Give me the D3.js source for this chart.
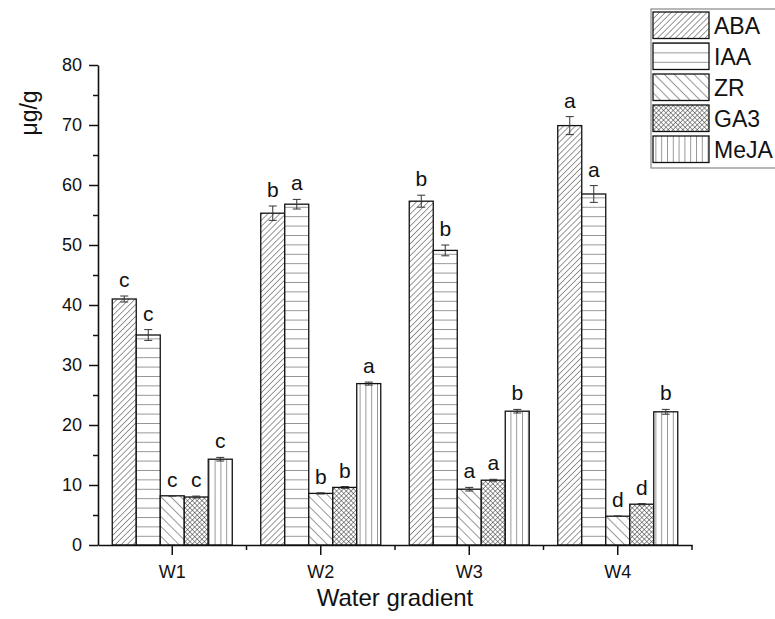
<!DOCTYPE html>
<html>
<head>
<meta charset="utf-8">
<script src="https://cdn.jsdelivr.net/npm/d3@7"></script>
<style>
  body { margin: 0; background: #fff; }
  svg { display: block; font-family: "Liberation Sans", Arial, sans-serif; }
</style>
</head>
<body>
<div id="chart"></div>
<script>
// Hormone content per water gradient

const groups = ["W1", "W2", "W3", "W4"];
const hormones = ["ABA", "IAA", "ZR", "GA3", "MeJA"];

const meanABA = [41.0, 55.3, 57.3, 69.9];
const meanIAA = [35.0, 56.8, 49.1, 58.5];
const meanZR = [8.2, 8.6, 9.3, 4.8];
const meanGA3 = [8.0, 9.6, 10.8, 6.8];
const meanMeJA = [14.3, 26.9, 22.3, 22.2];

const errABA = [0.5, 1.2, 1.0, 1.5];
const errIAA = [0.9, 0.8, 0.9, 1.4];
const errZR = [0.05, 0.1, 0.3, 0.05];
const errGA3 = [0.15, 0.15, 0.15, 0.1];
const errMeJA = [0.3, 0.25, 0.3, 0.4];

const lettersABA = ["c", "b", "b", "a"];
const lettersIAA = ["c", "a", "b", "a"];
const lettersZR = ["c", "b", "a", "d"];
const lettersGA3 = ["c", "b", "a", "d"];
const lettersMeJA = ["c", "a", "b", "b"];

const yTicks = [0, 10, 20, 30, 40, 50, 60, 70, 80];
const yMinorTicks = [5, 15, 25, 35, 45, 55, 65, 75];

(function () {
  const means = [meanABA, meanIAA, meanZR, meanGA3, meanMeJA];
  const errs = [errABA, errIAA, errZR, errGA3, errMeJA];
  const letters = [lettersABA, lettersIAA, lettersZR, lettersGA3, lettersMeJA];

  // flat rows for drawing
  const data = [];
  groups.forEach((g, gi) => {
    hormones.forEach((h, hi) => {
      data.push({ group: g, hormone: h, value: means[hi][gi], err: errs[hi][gi], letter: letters[hi][gi] });
    });
  });

  const W = 775, H = 619;
  const plot = { left: 98, right: 692, top: 65, bottom: 545 };

  const svg = d3.select("#chart").append("svg")
    .attr("width", W).attr("height", H);

  // fill patterns
  const defs = svg.append("defs");
  function linePattern(id, size, angle, cross) {
    const p = defs.append("pattern")
      .attr("id", id)
      .attr("patternUnits", "userSpaceOnUse")
      .attr("width", size).attr("height", size)
      .attr("patternTransform", "rotate(" + angle + ")");
    p.append("rect").attr("width", size).attr("height", size).attr("fill", "#fff");
    p.append("line").attr("x1", 0).attr("y1", 0).attr("x2", 0).attr("y2", size)
      .attr("stroke", "#333").attr("stroke-width", 1);
    if (cross) {
      p.append("line").attr("x1", 0).attr("y1", 0).attr("x2", size).attr("y2", 0)
        .attr("stroke", "#333").attr("stroke-width", 1);
    }
  }
  linePattern("pat-ABA", 4.2, 45, false);
  linePattern("pat-IAA", 9.4, 90, false);
  linePattern("pat-ZR", 7, -45, false);
  linePattern("pat-GA3", 3.4, 45, true);
  linePattern("pat-MeJA", 5.8, 0, false);

  const fillOf = h => "url(#pat-" + h + ")";

  // scales
  const x = d3.scaleBand().domain(groups).range([plot.left, plot.right]).padding(0);
  const groupWidth = 120;
  const xInner = d3.scaleBand().domain(hormones).range([-groupWidth / 2, groupWidth / 2]).padding(0);
  const y = d3.scaleLinear().domain([0, 80]).range([plot.bottom, plot.top]);

  const barX = d => x(d.group) + x.bandwidth() / 2 + xInner(d.hormone);

  // bars
  svg.append("g").selectAll("rect")
    .data(data)
    .enter()
    .append("rect")
    .attr("x", barX)
    .attr("y", d => y(d.value))
    .attr("width", xInner.bandwidth())
    .attr("height", d => y(0) - y(d.value))
    .attr("fill", d => fillOf(d.hormone))
    .attr("stroke", "#111")
    .attr("stroke-width", 1.3);

  // error bars
  const eb = svg.append("g").attr("stroke", "#333").attr("stroke-width", 1);
  data.forEach(d => {
    const cx = barX(d) + xInner.bandwidth() / 2;
    eb.append("line").attr("x1", cx).attr("x2", cx)
      .attr("y1", y(d.value - d.err)).attr("y2", y(d.value + d.err));
    eb.append("line").attr("x1", cx - 4).attr("x2", cx + 4)
      .attr("y1", y(d.value + d.err)).attr("y2", y(d.value + d.err));
    eb.append("line").attr("x1", cx - 4).attr("x2", cx + 4)
      .attr("y1", y(d.value - d.err)).attr("y2", y(d.value - d.err));
  });

  // significance letters
  svg.append("g").selectAll("text")
    .data(data)
    .enter()
    .append("text")
    .attr("x", d => barX(d) + xInner.bandwidth() / 2)
    .attr("y", d => y(d.value + d.err) - 9)
    .attr("text-anchor", "middle")
    .attr("font-size", "21px")
    .attr("fill", "#111")
    .text(d => d.letter);

  // y axis
  const yAxis = d3.axisLeft(y).tickValues(yTicks).tickSize(9).tickPadding(7).tickSizeOuter(0);
  const gy = svg.append("g")
    .attr("transform", "translate(" + plot.left + ",0)")
    .call(yAxis);
  gy.selectAll("text").attr("font-size", "18px").attr("fill", "#111").attr("font-family", null);
  gy.selectAll("line").attr("stroke-width", 1.5).attr("stroke", "#111");
  gy.select(".domain").attr("stroke-width", 1.6).attr("stroke", "#111");
  svg.append("g")
    .attr("transform", "translate(" + plot.left + ",0)")
    .call(d3.axisLeft(y).tickValues(yMinorTicks).tickSize(5).tickFormat("").tickSizeOuter(0))
    .call(g => g.select(".domain").remove())
    .selectAll("line").attr("stroke-width", 1.5).attr("stroke", "#111");

  // x axis
  const xAxis = d3.axisBottom(x).tickSize(10).tickPadding(10).tickSizeOuter(0);
  const gx = svg.append("g")
    .attr("transform", "translate(0," + plot.bottom + ")")
    .call(xAxis);
  gx.selectAll("text").attr("font-size", "18px").attr("fill", "#111").attr("font-family", null);
  gx.selectAll("line").attr("stroke-width", 1.5).attr("stroke", "#111");
  gx.select(".domain").attr("stroke-width", 1.6).attr("stroke", "#111");
  gx.selectAll(".minor")
    .data(groups)
    .enter()
    .append("line")
    .attr("class", "minor")
    .attr("x1", g => x(g) + x.bandwidth())
    .attr("x2", g => x(g) + x.bandwidth())
    .attr("y1", 0).attr("y2", 5)
    .attr("stroke", "#111").attr("stroke-width", 1.5);

  // axis titles
  svg.append("text")
    .attr("x", (plot.left + plot.right) / 2)
    .attr("y", 606)
    .attr("text-anchor", "middle")
    .attr("font-size", "24px")
    .attr("fill", "#111")
    .text("Water gradient");

  svg.append("text")
    .attr("transform", "translate(37,113) rotate(-90)")
    .attr("text-anchor", "middle")
    .attr("font-size", "23px")
    .attr("fill", "#111")
    .text("μg/g");

  // legend
  const legend = svg.append("g");
  legend.append("rect")
    .attr("x", 651).attr("y", 9)
    .attr("width", 140).attr("height", 159)
    .attr("fill", "#fff")
    .attr("stroke", "#888").attr("stroke-width", 1.2);
  const rows = legend.selectAll(".row")
    .data(hormones)
    .enter()
    .append("g")
    .attr("class", "row")
    .attr("transform", (h, i) => "translate(0," + (12 + i * 31) + ")");
  rows.append("rect")
    .attr("x", 653).attr("y", 0)
    .attr("width", 56).attr("height", 26.5)
    .attr("fill", h => fillOf(h))
    .attr("stroke", "#111").attr("stroke-width", 1.3);
  rows.append("text")
    .attr("x", 714).attr("y", 21.5)
    .attr("font-size", "23px")
    .attr("fill", "#111")
    .text(h => h);
})();
</script>
</body>
</html>
